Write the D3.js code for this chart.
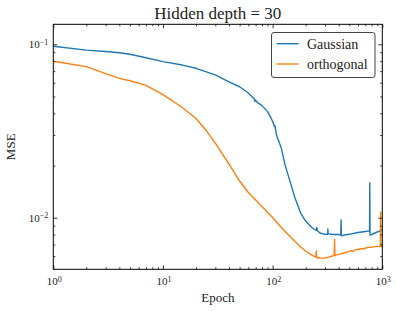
<!DOCTYPE html>
<html>
<head>
<meta charset="utf-8">
<script src="https://cdn.jsdelivr.net/npm/d3@7"></script>
<style>
  html, body { margin: 0; padding: 0; background: #fff; }
  svg { display: block; }
</style>
</head>
<body>
<div id="chart"></div>
<script>
// Training curves (MSE per epoch, log-log)
const gaussEpochs = [1, 2, 3, 4, 5, 7, 10, 15, 20, 30, 40, 50, 60, 68, 69, 70, 72, 80, 90, 100, 104, 105, 108, 110, 120, 130, 140, 160, 180, 200, 230, 250, 253, 256, 270, 300, 318, 319, 320, 350, 400, 418, 421, 424, 430, 450, 500, 600, 700, 765, 769, 773, 800, 900, 960, 1000];
const gaussMse = [0.0974, 0.0926, 0.0908, 0.0894, 0.0876, 0.0836, 0.0794, 0.0759, 0.0727, 0.0666, 0.0608, 0.0569, 0.0524, 0.0483, 0.0468, 0.0477, 0.0464, 0.0443, 0.0409, 0.0359, 0.0335, 0.0340, 0.0304, 0.0292, 0.0252, 0.0201, 0.0172, 0.0130, 0.01064, 0.00957, 0.00872, 0.00844, 0.0088, 0.0084, 0.00816, 0.00802, 0.00802, 0.0086, 0.0081, 0.0080, 0.0080, 0.00795, 0.0097, 0.0079, 0.00785, 0.00795, 0.00802, 0.00822, 0.00833, 0.00839, 0.0159, 0.00795, 0.0080, 0.00827, 0.00839, 0.0085];

const orthoEpochs = [1, 2, 3, 4, 5, 7, 10, 15, 20, 25, 30, 40, 50, 60, 70, 80, 100, 120, 140, 160, 180, 200, 230, 248, 250, 252, 270, 300, 330, 364, 367, 370, 380, 400, 450, 500, 520, 540, 560, 600, 650, 680, 700, 750, 800, 850, 900, 960, 965, 970, 1000];
const orthoMse = [0.0798, 0.0743, 0.0677, 0.0636, 0.0616, 0.0579, 0.0512, 0.0432, 0.0373, 0.0316, 0.0269, 0.0204, 0.01627, 0.01397, 0.01264, 0.01160, 0.01003, 0.00878, 0.00795, 0.00729, 0.00678, 0.00643, 0.00606, 0.00592, 0.00643, 0.0059, 0.00586, 0.00585, 0.00595, 0.00605, 0.00751, 0.00605, 0.00610, 0.00614, 0.00626, 0.00640, 0.00646, 0.00638, 0.00652, 0.00656, 0.00664, 0.00659, 0.00669, 0.00674, 0.00676, 0.00681, 0.00683, 0.00684, 0.0108, 0.00682, 0.00678];

const seriesNames = ['Gaussian', 'orthogonal'];
const seriesColors = ['#1f77b4', '#ff7f0e'];

const xMajor = [1, 10, 100, 1000];
const xMajorExp = ['0', '1', '2', '3'];
const yMajor = [0.1, 0.01];
const yMajorExp = ['\u22121', '\u22122'];

const titleText = 'Hidden depth = 30';
const xLabelText = 'Epoch';
const yLabelText = 'MSE';

const W = 396, H = 311;
const margin = { left: 53.3, right: 396 - 382.3, top: 24.3, bottom: 311 - 269.3 };
const serif = '"Liberation Serif", "DejaVu Serif", serif';

const svg = d3.select('#chart').append('svg')
  .attr('width', W)
  .attr('height', H);

const x = d3.scaleLog()
  .domain([1, 1000])
  .range([margin.left, W - margin.right]);

const y = d3.scaleLog()
  .domain([0.00504, 0.1304])
  .range([H - margin.bottom, margin.top]);

// minor tick values, 2..9 in each decade inside the domain
function minorTicks(scale) {
  const [a, b] = scale.domain();
  const out = [];
  for (let e = Math.floor(Math.log10(a)); e <= Math.ceil(Math.log10(b)); e++) {
    for (let m = 2; m <= 9; m++) {
      const v = m * Math.pow(10, e);
      if (v >= a && v <= b) out.push(v);
    }
  }
  return out;
}

const xMinor = minorTicks(x);
const yMinor = minorTicks(y);

const plotBottom = H - margin.bottom, plotTop = margin.top;
const plotLeft = margin.left, plotRight = W - margin.right;

// Clip for data lines
svg.append('clipPath').attr('id', 'plot-clip')
  .append('rect')
  .attr('x', plotLeft)
  .attr('y', plotTop)
  .attr('width', plotRight - plotLeft)
  .attr('height', plotBottom - plotTop);

// Lines
const line = d3.line()
  .x(d => x(d[0]))
  .y(d => y(d[1]));

const series = [
  gaussEpochs.map((e, i) => [e, gaussMse[i]]),
  orthoEpochs.map((e, i) => [e, orthoMse[i]])
];

svg.append('g')
  .attr('clip-path', 'url(#plot-clip)')
  .selectAll('path')
  .data(series)
  .join('path')
  .attr('d', line)
  .attr('fill', 'none')
  .attr('stroke', (d, i) => seriesColors[i])
  .attr('stroke-width', 1.4)
  .attr('stroke-linejoin', 'round');

// Axes: ticks pointing inward on all four sides
function drawAxis(axisFn, scale, values, size, transform) {
  const g = svg.append('g')
    .attr('transform', transform)
    .call(axisFn(scale).tickValues(values).tickSize(size).tickFormat(''));
  g.select('.domain').remove();
  g.selectAll('line').attr('stroke', '#000').attr('stroke-width', 0.8);
  return g;
}

drawAxis(d3.axisBottom, x, xMajor, -4, `translate(0,${plotBottom})`);
drawAxis(d3.axisBottom, x, xMinor, -2, `translate(0,${plotBottom})`);
drawAxis(d3.axisTop, x, xMajor, -4, `translate(0,${plotTop})`);
drawAxis(d3.axisTop, x, xMinor, -2, `translate(0,${plotTop})`);
drawAxis(d3.axisLeft, y, yMajor, -4, `translate(${plotLeft},0)`);
drawAxis(d3.axisLeft, y, yMinor, -2, `translate(${plotLeft},0)`);
drawAxis(d3.axisRight, y, yMajor, -4, `translate(${plotRight},0)`);
drawAxis(d3.axisRight, y, yMinor, -2, `translate(${plotRight},0)`);

// Frame
svg.append('rect')
  .attr('x', plotLeft)
  .attr('y', plotTop)
  .attr('width', plotRight - plotLeft)
  .attr('height', plotBottom - plotTop)
  .attr('fill', 'none')
  .attr('stroke', '#000')
  .attr('stroke-width', 1);

// Tick labels with superscript exponents
function powLabel(sel, exp) {
  sel.append('tspan').text('10');
  sel.append('tspan')
    .attr('dy', '-0.42em')
    .attr('font-size', '8px')
    .text(exp);
}

xMajor.forEach((v, i) => {
  svg.append('text')
    .attr('x', x(v) + 1)
    .attr('y', plotBottom + 16)
    .attr('text-anchor', 'middle')
    .attr('font-family', serif)
    .attr('font-size', '11px')
    .attr('fill', '#222')
    .call(powLabel, xMajorExp[i]);
});

yMajor.forEach((v, i) => {
  svg.append('text')
    .attr('x', plotLeft - 5)
    .attr('y', y(v) + 4)
    .attr('text-anchor', 'end')
    .attr('font-family', serif)
    .attr('font-size', '11px')
    .attr('fill', '#222')
    .call(powLabel, yMajorExp[i]);
});

// Title and axis labels
svg.append('text')
  .attr('x', (plotLeft + plotRight) / 2)
  .attr('y', 18.5)
  .attr('text-anchor', 'middle')
  .attr('font-family', serif)
  .attr('font-size', '17px')
  .attr('fill', '#222')
  .text(titleText);

svg.append('text')
  .attr('x', (plotLeft + plotRight) / 2)
  .attr('y', 302)
  .attr('text-anchor', 'middle')
  .attr('font-family', serif)
  .attr('font-size', '13px')
  .attr('fill', '#222')
  .text(xLabelText);

svg.append('text')
  .attr('transform', `translate(15,${(plotTop + plotBottom) / 2}) rotate(-90)`)
  .attr('text-anchor', 'middle')
  .attr('font-family', serif)
  .attr('font-size', '13px')
  .attr('fill', '#222')
  .text(yLabelText);

// Legend
const legend = svg.append('g');
legend.append('rect')
  .attr('x', 271.5)
  .attr('y', 32.5)
  .attr('width', 103.5)
  .attr('height', 45)
  .attr('rx', 2.5)
  .attr('fill', '#fff')
  .attr('stroke', '#444')
  .attr('stroke-width', 1);

seriesNames.forEach((name, i) => {
  const yy = 43.7 + i * 20.3;
  legend.append('line')
    .attr('x1', 276.5)
    .attr('x2', 298.5)
    .attr('y1', yy)
    .attr('y2', yy)
    .attr('stroke', seriesColors[i])
    .attr('stroke-width', 1.4);
  legend.append('text')
    .attr('x', 307)
    .attr('y', yy + 5)
    .attr('font-family', serif)
    .attr('font-size', '14px')
    .attr('fill', '#222')
    .text(name);
});
</script>
</body>
</html>
